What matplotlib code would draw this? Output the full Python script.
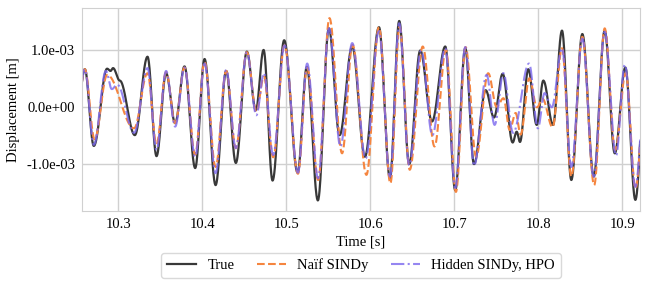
import matplotlib
matplotlib.use("Agg")
import matplotlib.pyplot as plt
import numpy as np
from matplotlib.ticker import FuncFormatter, MultipleLocator

plt.rcParams['font.family'] = ['Liberation Serif', 'DejaVu Serif']

# extrema of each signal, time [s] and displacement [1e-3 m]
t_true = [10.2496, 10.2604, 10.2711, 10.2869, 10.2910, 10.2940, 10.3020, 10.3199,
          10.3350, 10.3457, 10.3571, 10.3679, 10.3790, 10.3917, 10.4029, 10.4160,
          10.4286, 10.4401, 10.4532, 10.4639, 10.4731, 10.4838, 10.4976, 10.5136,
          10.5246, 10.5377, 10.5508, 10.5636, 10.5786, 10.5937, 10.6104, 10.6235,
          10.6345, 10.6464, 10.6595, 10.6735, 10.6893, 10.7012, 10.7131, 10.7235,
          10.7374, 10.7473, 10.7576, 10.7695, 10.7743, 10.7782, 10.7881, 10.7981,
          10.8060, 10.8175, 10.8282, 10.8393, 10.8524, 10.8660, 10.8790, 10.8910,
          10.9036, 10.9155, 10.9270]
y_true = [-0.30, 0.67, -0.68, 0.68, 0.64, 0.69, 0.47, -0.49,
          0.89, -0.86, 0.60, -0.28, 0.72, -1.07, 0.85, -1.37,
          0.64, -0.98, 0.98, -0.05, 1.01, -1.29, 1.18, -1.15,
          0.71, -1.64, 1.39, -0.49, 1.07, -0.87, 1.41, -1.25,
          1.52, -1.00, 1.00, -0.25, 1.07, -1.46, 1.04, -1.00,
          0.30, -0.18, 0.59, -0.62, -0.43, -0.61, 0.67, -0.31,
          0.47, -0.31, 1.35, -1.28, 1.29, -1.22, 1.35, -0.81,
          0.70, -1.63, 0.40]

t_naif = [10.2496, 10.2604, 10.2720, 10.2870, 10.3190, 10.3350, 10.3457, 10.3571,
          10.3679, 10.3790, 10.3917, 10.4029, 10.4160, 10.4286, 10.4401, 10.4532,
          10.4645, 10.4735, 10.4845, 10.4980, 10.5140, 10.5250, 10.5380, 10.5515,
          10.5665, 10.5790, 10.5955, 10.6104, 10.6240, 10.6350, 10.6470, 10.6625,
          10.6765, 10.6900, 10.7020, 10.7135, 10.7260, 10.7404, 10.7504, 10.7586,
          10.7660, 10.7730, 10.7790, 10.7893, 10.7985, 10.8050, 10.8170, 10.8282,
          10.8393, 10.8524, 10.8665, 10.8790, 10.8915, 10.9040, 10.9158, 10.9270]
y_naif = [-0.30, 0.67, -0.56, 0.57, -0.37, 0.60, -0.65, 0.62,
          -0.28, 0.70, -0.83, 0.80, -1.05, 0.64, -0.72, 0.97,
          -0.08, 0.54, -0.88, 1.09, -1.17, 0.70, -1.28, 1.57,
          -0.81, 1.10, -1.19, 1.41, -1.34, 1.42, -1.10, 1.07,
          -0.69, 1.01, -1.49, 1.06, -0.87, 0.60, 0.01, 0.16,
          -0.40, -0.10, -0.48, 0.51, 0.00, 0.15, -0.35, 1.04,
          -1.22, 1.24, -1.37, 1.39, -0.75, 0.60, -1.43, 0.30]

t_hidden = [10.2496, 10.2604, 10.2711, 10.2855, 10.2925, 10.2990, 10.3190, 10.3350,
            10.3457, 10.3571, 10.3679, 10.3790, 10.3917, 10.4029, 10.4160, 10.4286,
            10.4401, 10.4532, 10.4645, 10.4735, 10.4845, 10.4980, 10.5140, 10.5250,
            10.5380, 10.5510, 10.5645, 10.5786, 10.5945, 10.6104, 10.6235, 10.6345,
            10.6464, 10.6605, 10.6740, 10.6893, 10.7012, 10.7131, 10.7235, 10.7385,
            10.7480, 10.7585, 10.7700, 10.7890, 10.7995, 10.8075, 10.8160, 10.8282,
            10.8393, 10.8524, 10.8660, 10.8790, 10.8925, 10.9030, 10.9155, 10.9270]
y_hidden = [-0.30, 0.67, -0.66, 0.64, 0.32, 0.40, -0.45, 0.69,
            -0.75, 0.64, -0.34, 0.70, -0.87, 0.77, -1.16, 0.66,
            -0.72, 0.97, -0.14, 0.60, -0.84, 1.09, -1.15, 0.77,
            -1.25, 1.39, -0.69, 1.13, -0.90, 1.34, -1.22, 1.48,
            -1.02, 1.00, -0.49, 1.04, -1.42, 1.06, -1.03, 0.57,
            -0.31, 0.60, -0.45, 0.77, -0.37, 0.25, 0.00, 1.04,
            -1.05, 1.21, -1.22, 1.33, -0.85, 0.75, -1.40, 0.30]


def smooth(t, y, n=40):
    # half-cosine segments between consecutive extrema
    t = np.asarray(t)
    y = np.asarray(y) * 1e-3
    xs, ys = [], []
    for i in range(len(t) - 1):
        s = np.linspace(0, 1, n, endpoint=False)
        xs.append(t[i] + (t[i + 1] - t[i]) * s)
        ys.append(y[i] + (y[i + 1] - y[i]) * (1 - np.cos(np.pi * s)) / 2)
    xs.append([t[-1]])
    ys.append([y[-1]])
    return np.concatenate(xs), np.concatenate(ys)


fig = plt.figure(figsize=(6.49, 2.90), dpi=100)
ax = fig.add_axes([0.1263, 0.2724, 0.8598, 0.699])

ax.plot(*smooth(t_true, y_true), color='#383838', lw=1.6, label='True')
ax.plot(*smooth(t_naif, y_naif), color='#f5853f', lw=1.5, ls='--', label='Naïf SINDy')
ax.plot(*smooth(t_hidden, y_hidden), color='#7b68ee', lw=1.5, ls='-.', alpha=0.8,
        label='Hidden SINDy, HPO')

ax.set_xlim(10.257, 10.921)
ax.set_ylim(-1.826e-3, 1.743e-3)
ax.xaxis.set_major_locator(MultipleLocator(0.1))
ax.yaxis.set_major_locator(MultipleLocator(1e-3))
ax.yaxis.set_major_formatter(FuncFormatter(lambda v, p: f"{v:.1e}"))
ax.tick_params(labelsize=10.5, length=0, pad=5)
ax.grid(True, color='#d0d0d0', lw=1)
ax.set_axisbelow(True)
for sp in ax.spines.values():
    sp.set_color('#d0d0d0')

ax.set_xlabel('Time [s]', fontsize=10.5, labelpad=3)
ax.set_ylabel('Displacement [m]', fontsize=10.5, labelpad=4)

ax.legend(loc='upper center', bbox_to_anchor=(0.5, -0.17), ncol=3, fontsize=10.5,
          frameon=True, edgecolor='#d0d0d0', fancybox=True, columnspacing=1.5,
          handlelength=2.0)

fig.savefig('out.png', dpi=100)
